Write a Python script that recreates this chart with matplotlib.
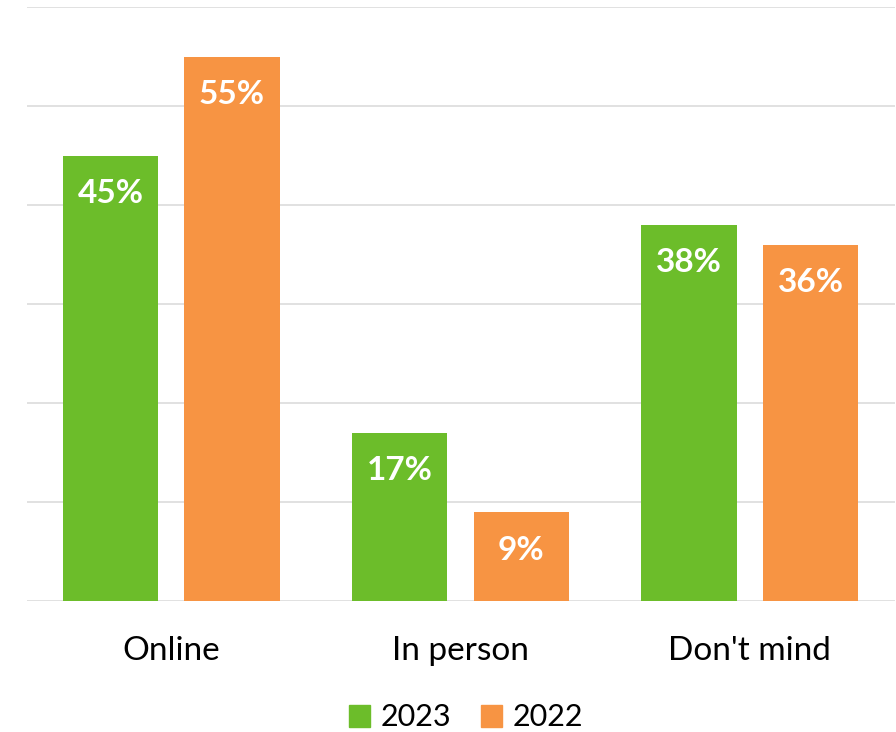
import matplotlib
matplotlib.use("Agg")
import matplotlib.pyplot as plt
from matplotlib.patches import Patch
import numpy as np

categories = ["Online", "In person", "Don't mind"]
series_names = ["2023", "2022"]
values_2023 = [45, 17, 38]
values_2022 = [55, 9, 36]
colors = ["#6cbd2a", "#f79443"]

plt.rcParams['font.family'] = ['Lato', 'DejaVu Sans']

fig = plt.figure(figsize=(8.96, 7.32), dpi=100)
ax = fig.add_axes([26.5/896, 1-601/732, 868/896, 594/732])

x = np.arange(len(categories))
w = 0.33
off = 0.21
b1 = ax.bar(x - off, values_2023, w, color=colors[0], zorder=3)
b2 = ax.bar(x + off, values_2022, w, color=colors[1], zorder=3)

for bars, vals in ((b1, values_2023), (b2, values_2022)):
    for r, v in zip(bars, vals):
        ax.annotate(f"{v}%", (r.get_x() + r.get_width()/2, r.get_height()),
                    xytext=(0, -27.5), textcoords="offset points",
                    ha="center", va="center", color="white",
                    fontsize=24, fontweight="bold", zorder=4)

ax.set_xlim(-0.5, 2.5)
ax.set_ylim(0, 60)
ax.set_yticks(np.arange(0, 61, 10))
ax.yaxis.grid(True, color="#d9d9d9", linewidth=1.1, zorder=0)
ax.set_yticklabels([])
ax.tick_params(axis="y", length=0)
ax.set_xticks(x)
ax.set_xticklabels(categories, fontsize=24, color="black")
ax.tick_params(axis="x", length=0, pad=25)
for s in ax.spines.values():
    s.set_visible(False)
ax.set_axisbelow(True)

handles = [Patch(color=c) for c in colors]
fig.legend(handles, series_names, loc="center",
           bbox_to_anchor=(466/896, 1-717.5/732), ncol=2, frameon=False,
           fontsize=22, handlelength=0.7, handleheight=0.7,
           handletextpad=0.36, columnspacing=0.95, borderpad=0, borderaxespad=0)

fig.savefig("out.png", dpi=100)
